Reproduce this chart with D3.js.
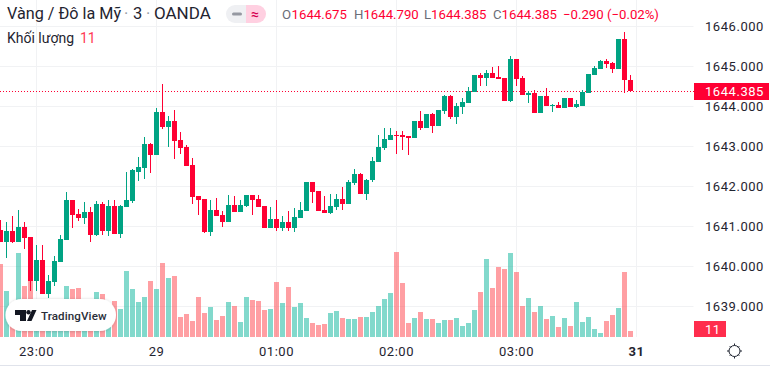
<!DOCTYPE html>
<html><head><meta charset="utf-8">
<script src="https://cdn.jsdelivr.net/npm/d3@7/dist/d3.min.js"></script>
<style>
html,body{margin:0;padding:0;background:#fff;overflow:hidden}
svg{display:block;font-family:Roboto,"Noto Sans",sans-serif}
</style></head><body>
<svg id="c" width="770" height="366"></svg>
<script>
const opens=[1640.913,1640.613,1640.888,1640.613,1640.988,1640.738,1639.638,1640.163,1639.313,1639.613,1640.113,1640.663,1641.663,1641.313,1641.213,1641.363,1640.788,1641.563,1640.888,1641.513,1640.813,1641.488,1641.638,1642.363,1642.463,1643.063,1642.788,1643.863,1643.488,1643.638,1643.163,1642.988,1642.538,1641.763,1641.688,1640.863,1641.413,1641.288,1641.113,1641.538,1641.363,1641.513,1641.788,1641.688,1641.513,1640.963,1641.188,1640.963,1641.113,1640.963,1641.213,1641.388,1642.113,1641.888,1641.413,1641.338,1641.488,1641.688,1641.563,1642.088,1642.313,1641.813,1642.163,1642.613,1642.963,1643.163,1643.288,1643.288,1643.263,1643.213,1643.638,1643.463,1643.813,1643.513,1643.888,1644.263,1643.738,1643.988,1644.088,1644.363,1644.788,1644.713,1644.838,1644.738,1644.713,1644.138,1645.188,1644.713,1644.288,1644.338,1643.838,1644.263,1644.013,1644.038,1643.963,1644.213,1643.988,1644.013,1644.338,1644.788,1644.938,1645.138,1645.088,1644.938,1645.688,1644.675];
const highs=[1641.163,1641.113,1641.263,1641.413,1641.113,1640.738,1640.538,1640.538,1639.788,1640.263,1640.788,1641.863,1641.663,1641.438,1641.613,1641.488,1641.638,1641.613,1641.663,1641.663,1641.538,1642.363,1642.438,1642.738,1643.238,1643.088,1643.963,1644.563,1643.763,1643.913,1643.363,1643.038,1642.713,1641.763,1641.688,1641.663,1641.713,1641.388,1641.788,1641.763,1641.663,1641.788,1641.788,1641.788,1641.513,1641.488,1641.663,1641.263,1641.388,1641.463,1641.613,1642.113,1642.113,1641.888,1641.763,1641.813,1641.813,1641.988,1642.163,1642.438,1642.338,1642.188,1642.738,1643.288,1643.463,1643.463,1643.388,1643.388,1643.263,1643.638,1643.888,1643.813,1643.838,1643.913,1644.288,1644.288,1644.088,1644.213,1644.488,1644.788,1644.838,1644.913,1644.988,1645.013,1644.713,1645.263,1645.188,1644.763,1644.388,1644.413,1644.263,1644.463,1644.063,1644.113,1644.213,1644.213,1644.163,1644.413,1644.813,1645.013,1645.163,1645.188,1645.113,1645.688,1645.863,1644.790];
const lows=[1640.613,1640.213,1640.588,1640.613,1640.438,1639.388,1639.388,1639.313,1639.213,1639.513,1640.113,1640.663,1640.963,1641.138,1641.063,1640.613,1640.763,1640.788,1640.763,1640.813,1640.713,1641.488,1641.588,1642.138,1642.188,1642.338,1642.788,1643.438,1642.988,1642.688,1642.813,1642.513,1641.563,1641.288,1640.838,1640.763,1641.263,1640.988,1641.113,1641.363,1641.363,1641.488,1641.288,1641.488,1640.963,1640.963,1640.888,1640.888,1640.888,1640.863,1641.213,1641.388,1641.588,1641.388,1641.338,1641.313,1641.413,1641.413,1641.563,1642.038,1641.813,1641.663,1642.113,1642.613,1642.913,1643.163,1642.813,1642.913,1642.788,1643.213,1643.413,1643.463,1643.338,1643.513,1643.813,1643.688,1643.563,1643.813,1644.088,1644.363,1644.513,1644.513,1644.713,1644.688,1644.138,1644.113,1644.513,1644.288,1644.088,1643.838,1643.838,1644.013,1643.863,1643.963,1643.963,1643.988,1643.963,1644.013,1644.338,1644.788,1644.938,1644.963,1644.838,1644.938,1644.338,1644.385];
const closes=[1640.613,1640.888,1640.613,1640.988,1640.713,1639.638,1640.163,1639.313,1639.638,1640.138,1640.688,1641.663,1641.288,1641.213,1641.363,1640.788,1641.563,1640.888,1641.513,1640.813,1641.513,1641.663,1642.413,1642.488,1643.063,1642.788,1643.863,1643.488,1643.638,1643.138,1642.963,1642.513,1641.738,1641.663,1640.863,1641.413,1641.263,1641.113,1641.538,1641.363,1641.538,1641.788,1641.663,1641.488,1640.963,1641.188,1640.963,1641.113,1640.963,1641.238,1641.413,1642.113,1641.863,1641.388,1641.338,1641.513,1641.688,1641.563,1642.113,1642.313,1641.813,1642.163,1642.638,1642.988,1643.188,1643.288,1643.263,1643.238,1643.213,1643.638,1643.463,1643.813,1643.513,1643.913,1644.263,1643.738,1644.013,1644.113,1644.388,1644.788,1644.713,1644.838,1644.713,1644.688,1644.138,1645.188,1644.688,1644.288,1644.338,1643.838,1644.263,1644.013,1644.038,1643.963,1644.213,1643.988,1644.063,1644.363,1644.813,1644.963,1645.138,1645.063,1644.938,1645.688,1644.675,1644.385];
const volumes=[134,84,43,154,94,103,56,59,50,46,43,94,88,90,43,50,83,79,46,66,51,121,88,64,73,103,88,136,108,112,37,42,29,73,44,55,31,39,64,57,28,73,68,66,50,51,101,62,92,55,62,35,26,22,24,44,48,35,33,33,37,37,46,57,70,81,156,99,26,35,46,33,33,26,31,31,35,20,26,50,83,143,90,128,125,154,119,57,72,46,57,33,39,18,35,20,64,28,37,15,7,29,40,53,119,11];
const priceTicks=[1646,1645,1644,1643,1642,1641,1640,1639];
const timeTicks=[{i:6,label:"23:00"},{i:26,label:"29"},{i:46,label:"01:00"},{i:66,label:"02:00"},{i:86,label:"03:00"},{i:106,label:"31",bold:true}];
const legendOHLC=[["O","1644.675"],["H","1644.790"],["L","1644.385"],["C","1644.385"]];
const lastPrice=1644.385, lastVolume=11;
const legendChange="−0.290 (−0.02%)";

const UP="#00a383",DOWN="#ff0033",GRID="#f1f2f4",TXT="#1f2430";
const svg=d3.select("#c");
const x=d3.scaleLinear().domain([0,1]).range([0.5,6.5]);
const y=d3.scaleLinear().domain([1646,1639]).range([26.5,306.5]);
const yV=d3.scaleLinear().domain([0,220]).range([337,217]);
const idx=d3.range(opens.length);
const up=i=>closes[i]>=opens[i];

// grid
svg.append("g").selectAll("line").data(priceTicks).join("line")
 .attr("x1",0).attr("x2",693.5).attr("y1",d=>y(d)).attr("y2",d=>y(d)).attr("stroke",GRID);
svg.append("g").selectAll("line").data(timeTicks).join("line")
 .attr("x1",d=>x(d.i)).attr("x2",d=>x(d.i)).attr("y1",0).attr("y2",337).attr("stroke",GRID);

// volume
svg.append("g").selectAll("rect").data(idx).join("rect")
 .attr("x",i=>x(i)-2.5).attr("width",5)
 .attr("y",i=>Math.round(yV(volumes[i]))).attr("height",i=>337-Math.round(yV(volumes[i])))
 .attr("fill",i=>up(i)?"#05b39a":"#ff3f47").attr("fill-opacity",0.5);

// price line
svg.append("line").attr("x1",0).attr("x2",694).attr("y1",Math.round(y(lastPrice))+0.5).attr("y2",Math.round(y(lastPrice))+0.5)
 .attr("stroke",DOWN).attr("stroke-dasharray","1 2");

// candles
const wicks=svg.append("g"),bodies=svg.append("g");
wicks.selectAll("rect").data(idx).join("rect")
 .attr("x",i=>x(i)-0.5).attr("width",1)
 .attr("y",i=>Math.round(y(highs[i]))).attr("height",i=>Math.max(1,Math.round(y(lows[i]))-Math.round(y(highs[i]))))
 .attr("fill",i=>up(i)?UP:DOWN);
bodies.selectAll("rect").data(idx).join("rect")
 .attr("x",i=>x(i)-2.5).attr("width",5)
 .attr("y",i=>Math.round(y(Math.max(opens[i],closes[i]))))
 .attr("height",i=>Math.max(1,Math.round(y(Math.min(opens[i],closes[i])))-Math.round(y(Math.max(opens[i],closes[i])))))
 .attr("fill",i=>up(i)?UP:DOWN);

// price axis
const yAxis=d3.axisRight(y).tickValues(priceTicks).tickFormat(d3.format(".3f")).tickSize(0).tickPadding(0);
const gy=svg.append("g").attr("transform","translate(705,0)").call(yAxis);
gy.select(".domain").remove();
gy.selectAll("text").attr("font-size",13).attr("font-family","Roboto,sans-serif").attr("fill",TXT).style("letter-spacing","0.55px");

// last price + volume labels
svg.append("rect").attr("x",694).attr("y",83).attr("width",75).attr("height",17).attr("fill",DOWN);
svg.append("text").attr("x",705).attr("y",96).attr("font-size",13).attr("fill","#fff").style("letter-spacing","0.55px").text(d3.format(".3f")(lastPrice));
svg.append("rect").attr("x",694).attr("y",321).attr("width",32).attr("height",16).attr("fill","#ff2d4d");
svg.append("text").attr("x",705).attr("y",334).attr("font-size",13).attr("fill","#fff").style("letter-spacing","0.55px").text(lastVolume);

// time axis
svg.append("g").selectAll("text").data(timeTicks).join("text")
 .attr("x",d=>x(d.i)).attr("y",356).attr("text-anchor","middle").attr("font-size",13)
 .attr("font-weight",d=>d.bold?700:400).attr("fill",TXT).style("letter-spacing","0.5px").text(d=>d.label);

// frame lines
svg.append("line").attr("x1",0).attr("x2",770).attr("y1",365.5).attr("y2",365.5).attr("stroke","#e0e3eb");

// legend
const leg=svg.append("g");
leg.append("text").attr("x",7).attr("y",19).attr("font-size",16.2).attr("fill",TXT).text("Vàng / Đô la Mỹ");
leg.append("text").attr("x",124).attr("y",19).attr("font-size",16.5).attr("fill","#9598a1").text("·");
leg.append("text").attr("x",133).attr("y",19).attr("font-size",16.5).attr("fill",TXT).text("3");
leg.append("text").attr("x",146).attr("y",19).attr("font-size",16.5).attr("fill","#9598a1").text("·");
leg.append("text").attr("x",154).attr("y",19).attr("font-size",17).attr("fill",TXT).text("OANDA");
// mode pill
leg.append("path").attr("d","M246 5H235a9 9 0 0 0 0 18H246Z").attr("fill","#eff0f3");
leg.append("path").attr("d","M246 5H257a9 9 0 0 1 0 18H246Z").attr("fill","#ffd0e1");
leg.append("rect").attr("x",232).attr("y",12.5).attr("width",10).attr("height",3).attr("rx",1.5).attr("fill","#9598a1");
leg.append("text").attr("x",255).attr("y",18.5).attr("text-anchor","middle").attr("font-size",14).attr("font-weight",500).attr("fill","#d5004f").text("≈");
// OHLC
const ohlcX=[282,354,424,493];
legendOHLC.forEach((d,k)=>{
 const t=leg.append("text").attr("x",ohlcX[k]).attr("y",19).attr("font-size",13.2);
 t.append("tspan").attr("fill","#6a6d78").text(d[0]);
 t.append("tspan").attr("fill",DOWN).attr("dx",k===0?0.5:0).text(d[1]);
});
leg.append("text").attr("x",563).attr("y",19).attr("font-size",13.2).attr("fill",DOWN).text(legendChange);
leg.append("text").attr("x",7).attr("y",43).attr("font-size",14).attr("fill",TXT).text("Khối lượng");
leg.append("text").attr("x",80).attr("y",43).attr("font-size",14).attr("fill","#ff3a55").text(lastVolume);

// TradingView badge
const defs=svg.append("defs");
const f=defs.append("filter").attr("id","sh").attr("x","-20%").attr("y","-40%").attr("width","140%").attr("height","180%");
f.append("feDropShadow").attr("dx",0).attr("dy",0.5).attr("stdDeviation",1.5).attr("flood-color","#000").attr("flood-opacity",0.22);
const b=svg.append("g");
b.append("rect").attr("x",5.5).attr("y",299).attr("width",110.5).attr("height",32).attr("rx",16).attr("fill","#fff").attr("filter","url(#sh)");
b.append("path").attr("d","M15 310H26V321H20V315H15ZM32 310H36.5L31.5 321H27Z").attr("fill","#131722");
b.append("circle").attr("cx",28.5).attr("cy",312.3).attr("r",2.2).attr("fill","#131722");
b.append("text").attr("x",41).attr("y",319.5).attr("font-size",11.6).attr("font-weight",500).attr("fill","#2a2e39").style("letter-spacing","0.1px").text("TradingView");

// settings icon
const s=svg.append("g").attr("transform","translate(734.5,351)");
s.append("circle").attr("r",5.5).attr("fill","none").attr("stroke",TXT).attr("stroke-width",1);
d3.range(8).forEach(k=>{
 const a=k*Math.PI/4;
 if(k%2===0) s.append("line").attr("x1",5.5*Math.cos(a)).attr("y1",5.5*Math.sin(a)).attr("x2",7.5*Math.cos(a)).attr("y2",7.5*Math.sin(a)).attr("stroke",TXT);
 else s.append("line").attr("x1",5*Math.cos(a)).attr("y1",5*Math.sin(a)).attr("x2",6.8*Math.cos(a)).attr("y2",6.8*Math.sin(a)).attr("stroke",TXT);
});
</script></body></html>
